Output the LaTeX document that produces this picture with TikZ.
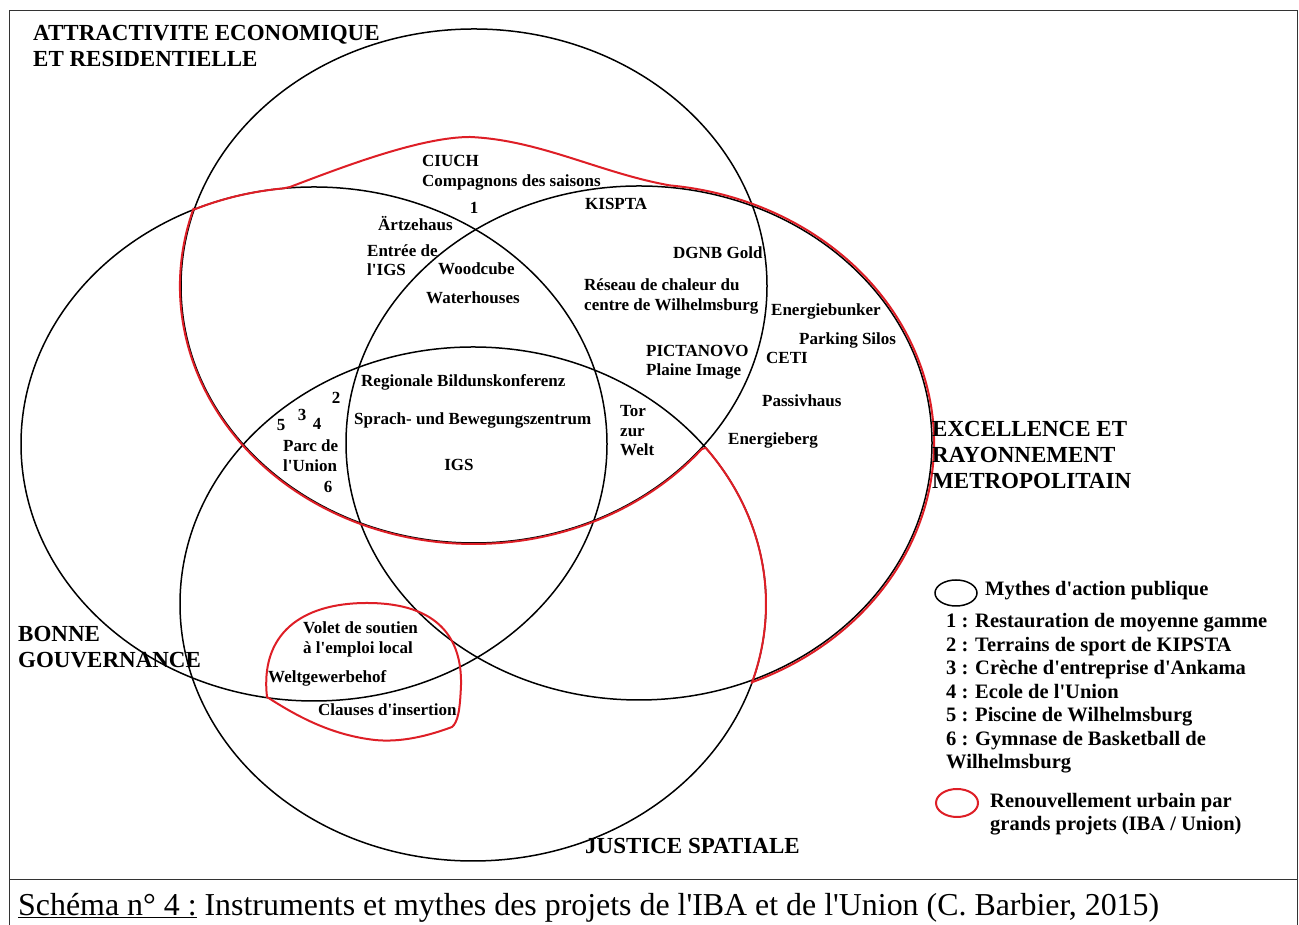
\documentclass[tikz,border=0pt]{standalone}
\usepackage{fontspec}
\setmainfont{Liberation Serif}[Ligatures=TeXOff]
\usetikzlibrary{calc}
\begin{document}
\begin{tikzpicture}[x=1pt,y=1pt,
  myth/.style={line width=1.5pt, black},
  renew/.style={line width=2pt, draw={rgb,255:red,222;green,30;blue,38}},
  lbl/.style={font=\bfseries\fontsize{17}{19.5}\selectfont, inner sep=0pt, anchor=west, align=left},
  num/.style={font=\bfseries\fontsize{17}{19.5}\selectfont, inner sep=0pt, anchor=center},
  ttl/.style={font=\bfseries\fontsize{23}{26}\selectfont, inner sep=0pt, anchor=west, align=left},
  leg/.style={font=\bfseries\fontsize{20.5}{23.5}\selectfont, inner sep=0pt, anchor=west, align=left}]
\useasboundingbox (0,0) rectangle (1299,925);
\fill[white] (0,0) rectangle (1299,925);
% frame
\draw[line width=0.9pt, black!80] (9,0) -- (9,915) -- (1297,915) -- (1297,0);
\draw[line width=0.9pt, black!80] (9,46) -- (1297,46);
% centres
\coordinate (A) at (474,639);
\coordinate (B) at (314,481);
\coordinate (C) at (639,482);
\coordinate (D) at (473,321);
% myth circles
\draw[myth] (A) ellipse [x radius=293, y radius=257];
\draw[myth] (B) ellipse [x radius=293, y radius=257];
\draw[myth] (C) ellipse [x radius=293, y radius=257];
\draw[myth] (D) ellipse [x radius=293, y radius=257];
% red renewal zone
\draw[renew, line join=round]
  ($(A)+(162.4:294 and 258)$) arc[start angle=162.4, end angle=320.8, x radius=294, y radius=258]
  -- ($(D)+(37.4:293 and 257)$) arc[start angle=37.4, end angle=-17.9, x radius=293, y radius=257]
  -- ($(C)+(-67.5:295 and 259)$) arc[start angle=-67.5, end angle=84, x radius=295, y radius=259]
  .. controls (600,752) and (540,785) .. (470,788)
  .. controls (420,788) and (340,757) .. (290,738)
  -- ($(B)+(96:293 and 257)$) arc[start angle=96, end angle=114.2, x radius=293, y radius=257];
% red small zone (local employment)
\draw[renew] (267,228) .. controls (260,290) and (300,322) .. (367,322)
  .. controls (440,322) and (462,285) .. (461,240)
  .. controls (460,215) and (458,203) .. (452,198)
  .. controls (420,186) and (395,183) .. (375,185)
  .. controls (330,190) and (295,210) .. (267,228) -- cycle;
% titles
\node[ttl] (tA) at (33,879) {ATTRACTIVITE ECONOMIQUE\\ET RESIDENTIELLE};
\node[ttl] (tC) at (932,470) {EXCELLENCE ET\\RAYONNEMENT\\METROPOLITAIN};
\node[ttl] (tB) at (18,278) {BONNE\\GOUVERNANCE};
\node[ttl] (tD) at (585,79) {JUSTICE SPATIALE};
% labels
\node[lbl] (ciuch) at (422,752) {CIUCH\\Compagnons des saisons};
\node[num] (n1) at (474,717) {1};
\node[lbl] (artz) at (378,701) {Ärtzehaus};
\node[lbl] (entree) at (367,665) {Entrée de\\l'IGS};
\node[lbl] (wood) at (438,656) {Woodcube};
\node[lbl] (water) at (426,627) {Waterhouses};
\node[lbl] (kispta) at (585,721) {KISPTA};
\node[lbl] (dgnb) at (673,672) {DGNB Gold};
\node[lbl] (reseau) at (584,628.5) {Réseau de chaleur du\\centre de Wilhelmsburg};
\node[lbl] (bunker) at (771,614) {Energiebunker};
\node[lbl] (silos) at (799,585) {Parking Silos};
\node[lbl] (picta) at (646,562.5) {PICTANOVO\\Plaine Image};
\node[lbl] (ceti) at (766,567) {CETI};
\node[lbl] (passiv) at (762,524) {Passivhaus};
\node[lbl] (berg) at (728,485) {Energieberg};
\node[lbl] (rbk) at (361,543) {Regionale Bildunskonferenz};
\node[num] (n2) at (336,527) {2};
\node[num] (n3) at (302,510) {3};
\node[num] (n5) at (281,500) {5};
\node[num] (n4) at (317,501) {4};
\node[lbl] (parc) at (283,469.5) {Parc de\\l'Union};
\node[num] (n6) at (328,438) {6};
\node[lbl] (sprach) at (354,505) {Sprach- und Bewegungszentrum};
\node[num] (igs) at (459,460) {IGS};
\node[lbl] (tor) at (620,494) {Tor\\zur\\Welt};
\node[lbl] (volet) at (303,285.5) {Volet de soutien\\à l'emploi local};
\node[lbl] (weltg) at (268,247) {Weltgewerbehof};
\node[lbl] (clauses) at (318,215) {Clauses d'insertion};
% legend
\draw[myth] (956,332) ellipse [x radius=21, y radius=13];
\node[leg] (lmyth) at (985,334) {Mythes d'action publique};
\node[leg] (litems) at (946,231.5) {1 : Restauration de moyenne gamme\\2 : Terrains de sport de KIPSTA\\3 : Crèche d'entreprise d'Ankama\\4 : Ecole de l'Union\\5 : Piscine de Wilhelmsburg\\6 : Gymnase de Basketball de\\Wilhelmsburg};
\draw[renew] (957,122) ellipse [x radius=21, y radius=14];
\node[leg] (lrenew) at (990,111) {Renouvellement urbain par\\grands projets (IBA / Union)};
% caption
\node[font=\fontsize{31.9}{34}\selectfont, inner sep=0pt, anchor=west] (caption) at (18,17) {\underline{Schéma n° 4 :} Instruments et mythes des projets de l'IBA et de l'Union (C. Barbier, 2015)};
\end{tikzpicture}
\end{document}
